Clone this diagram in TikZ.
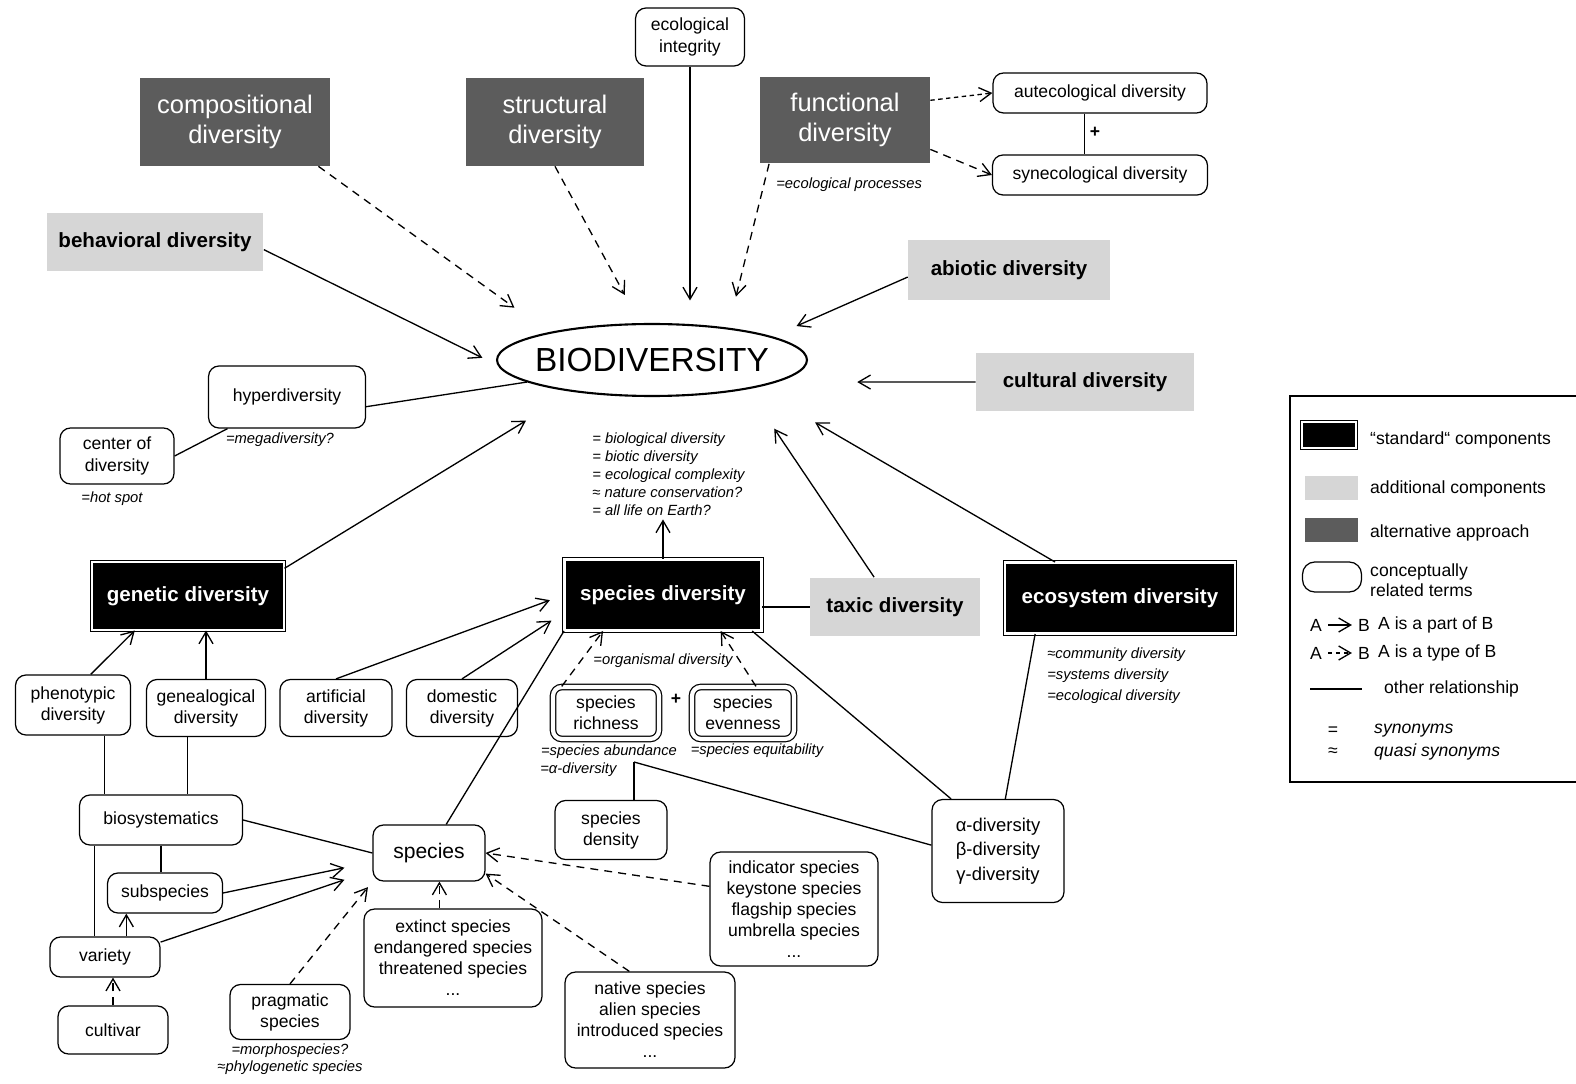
\documentclass[tikz,border=0pt]{standalone}
\usepackage{fontspec}
\setmainfont{Liberation Sans}
\usetikzlibrary{arrows.meta,shapes.geometric}

\definecolor{altgray}{gray}{0.36}
\definecolor{addgray}{gray}{0.84}

\tikzset{
  std/.style={rectangle, fill=black, draw=black, double=white, double distance=1.3pt, line width=0.6pt,
    text=white, font=\fontsize{11.7}{14}\selectfont\bfseries, inner sep=2pt},
  addit/.style={rectangle, fill=addgray, font=\fontsize{11.7}{14}\selectfont\bfseries, inner sep=2pt},
  altern/.style={rectangle, fill=altgray, text=white, align=center, font=\fontsize{14.5}{17.5}\selectfont, inner sep=2pt},
  concept/.style={rectangle, rounded corners=6pt, draw, line width=0.7pt, align=center,
    font=\fontsize{10}{12}\selectfont, inner sep=2pt},
  pairbox/.style={concept, double, double distance=2.4pt, rounded corners=5pt},
  syn/.style={font=\fontsize{8.4}{10.3}\selectfont\itshape, inner sep=0pt},
  partof/.style={-{Straight Barb[length=2.4mm,width=2.8mm]}, line width=0.75pt},
  typeof/.style={partof, dash pattern=on 4.5pt off 3.5pt},
  rel/.style={line width=0.75pt}
}

\begin{document}
\begin{tikzpicture}[x=0.02cm,y=-0.02cm]
\useasboundingbox (0,0) rectangle (1576,1084);

% main terms
\node[ellipse, draw, line width=1.2pt, minimum width=6.2cm, minimum height=1.44cm, inner xsep=-0.3cm, inner ysep=0pt,
  font=\fontsize{19}{22}\selectfont] (bio) at (652,360) {BIODIVERSITY};
\node[concept, minimum width=2.18cm, minimum height=1.16cm] (integ) at (690,37) {ecological\\integrity};
\node[altern, minimum width=3.8cm, minimum height=1.76cm] (comp) at (235,122) {compositional\\diversity};
\node[altern, minimum width=3.58cm, minimum height=1.76cm] (struct) at (555,122) {structural\\diversity};
\node[altern, minimum width=3.4cm, minimum height=1.74cm] (func) at (845,120) {functional\\diversity};
\node[concept, minimum width=4.28cm, minimum height=0.8cm] (autec) at (1100,93) {autecological diversity};
\node[concept, minimum width=4.3cm, minimum height=0.8cm] (synec) at (1100,175) {synecological diversity};
\node[addit, minimum width=4.34cm, minimum height=1.18cm] (behav) at (155,242) {behavioral diversity};
\node[addit, minimum width=4.04cm, minimum height=1.2cm] (abiot) at (1009,270) {abiotic diversity};
\node[addit, minimum width=4.36cm, minimum height=1.18cm] (cult) at (1085,382) {cultural diversity};
\node[concept, minimum width=3.14cm, minimum height=1.24cm] (hyper) at (287,397) {hyperdiversity};
\node[concept, minimum width=2.28cm, minimum height=1.12cm] (cent) at (117,456) {center of\\diversity};
\node[std, minimum width=3.84cm, minimum height=1.36cm] (gen) at (188,596) {genetic diversity};
\node[std, minimum width=3.94cm, minimum height=1.42cm] (spec) at (663,595) {species diversity};
\node[addit, minimum width=3.4cm, minimum height=1.18cm] (taxic) at (895,607) {taxic diversity};
\node[std, minimum width=4.6cm, minimum height=1.42cm] (eco) at (1120,598) {ecosystem diversity};

\node[concept, minimum width=2.3cm, minimum height=1.2cm] (pheno) at (73,705) {phenotypic\\diversity};
\node[concept, minimum width=2.38cm, minimum height=1.14cm] (geneal) at (206,708) {genealogical\\diversity};
\node[concept, minimum width=2.24cm, minimum height=1.14cm] (artif) at (336,708) {artificial\\diversity};
\node[concept, minimum width=2.22cm, minimum height=1.14cm] (domest) at (462,708) {domestic\\diversity};
\node[pairbox, minimum width=2.12cm, minimum height=1.04cm] (rich) at (606,713) {species\\richness};
\node[pairbox, minimum width=2.04cm, minimum height=1.04cm] (even) at (743,713) {species\\evenness};
\node[concept, minimum width=2.24cm, minimum height=1.18cm] (dens) at (611,830) {species\\density};
\node[concept, minimum width=2.64cm, minimum height=2.06cm, font=\fontsize{10.5}{14}\selectfont] (abg) at (998,851)
  {α-diversity\\β-diversity\\γ-diversity};
\node[concept, minimum width=3.26cm, minimum height=1cm] (biosys) at (161,820) {biosystematics};
\node[concept, minimum width=2.3cm, minimum height=0.8cm] (subsp) at (165,893) {subspecies};
\node[concept, minimum width=2.2cm, minimum height=0.8cm] (variety) at (105,957) {variety};
\node[concept, minimum width=2.2cm, minimum height=0.96cm] (cultiv) at (113,1030) {cultivar};
\node[concept, minimum width=2.24cm, minimum height=1.12cm, font=\fontsize{12}{14}\selectfont] (species) at (429,853) {species};
\node[concept, minimum width=3.56cm, minimum height=1.96cm] (extinct) at (453,958)
  {extinct species\\endangered species\\threatened species\\...};
\node[concept, minimum width=2.4cm, minimum height=1.1cm] (pragm) at (290,1012) {pragmatic\\species};
\node[concept, minimum width=3.36cm, minimum height=2.28cm] (indic) at (794,909)
  {indicator species\\keystone species\\flagship species\\umbrella species\\...};
\node[concept, minimum width=3.4cm, minimum height=1.92cm] (native) at (650,1020)
  {native species\\alien species\\introduced species\\...};

% synonyms and signs
\node[font=\bfseries] (plusae) at (1095,132) {+};
\node[syn, anchor=west] (ecoproc) at (776,185) {=ecological processes};
\node[syn] (mega) at (280,440) {=megadiversity?};
\node[syn] (hot) at (112,499) {=hot spot};
\node[syn, anchor=north west, align=left] (bsyn) at (592,432)
  {= biological diversity\\= biotic diversity\\= ecological complexity\\≈ nature conservation?\\= all life on Earth?};
\node[syn] (orgsyn) at (663,661) {=organismal diversity};
\node[font=\bfseries] (plusre) at (676,699) {+};
\node[syn] (abundsyn) at (609,752) {=species abundance};
\node[syn, anchor=west] (alphasyn) at (540,770) {=α-diversity};
\node[syn] (equitsyn) at (757,751) {=species equitability};
\node[syn, anchor=north west, align=left, font=\fontsize{8.4}{12}\selectfont\itshape] (ecosyn) at (1047,647)
  {≈community diversity\\=systems diversity\\=ecological diversity};
\node[syn] (morph) at (290,1051) {=morphospecies?};
\node[syn] (phylo) at (290,1068) {≈phylogenetic species};
\coordinate (abund) at (634,762);

% into BIODIVERSITY
\draw[partof, shorten >=0.45cm] (integ) -- (integ |- bio.north);
\draw[typeof, shorten >=0.84cm] (comp.-28) -- (bio.165);
\draw[typeof, shorten >=0.64cm] (struct.south) -- (bio.108);
\draw[typeof, shorten >=0.64cm] (func.-150) -- (bio.23);
\draw[partof, shorten >=0.34cm] (behav.-4) -- (bio.182);
\draw[partof, shorten >=0.52cm] (abiot.184) -- (bio.11);
\draw[partof, shorten >=1.6cm] (cult.west) -- (bio.-10);
\draw[rel] (hyper.-7) -- (bio.190);
\draw[partof, shorten >=1.1cm] (gen.16) -- (bio.202);
\draw[partof, shorten >=0.95cm] (taxic.125) -- (bio.-17);
\draw[partof, shorten >=1.38cm] (eco.151) -- (bio.-15);

\draw[typeof, dash pattern=on 2.5pt off 2pt] (func.13) -- (autec.west);
\draw[typeof] (func.-19) -- (synec.west);
\draw[rel] (autec.-127) -- (synec.127);
\draw[rel] (cent.east) -- (hyper.208);

% genetic and species diversity
\draw[partof] (pheno.60) -- (gen.213);
\draw[partof] (geneal) -- (geneal |- gen.south);
\draw[partof, shorten >=2pt] (spec) -- (spec |- bsyn.south);
\draw[partof, shorten >=0.3cm] (artif.north) -- (spec.west);
\draw[partof, shorten >=0.3cm] (domest.north) -- (spec.190);
\draw[typeof] (rich.149) -- (spec.211);
\draw[typeof] (even.64) -- (spec.-32);
\draw[rel] (spec.east |- taxic.west) -- (taxic.west);
\draw[rel] (species.59) -- (spec.south west);
\draw[rel] (spec.-22) -- (abg.132);
\draw[rel] (eco.-157) -- (abg.82);
\draw[rel] (abund) -- (abg.175);
\draw[rel] (abund) -- (abund |- dens.north);

% species
\draw[rel] (biosys.east) -- (species.west);
\draw[rel] (pheno.-44) -- (pheno.-44 |- biosys.north);
\draw[rel] (geneal.-122) -- (geneal.-122 |- biosys.north);
\draw[rel] (biosys.-159) -- (biosys.-159 |- variety.north);
\draw[rel] (biosys.south) -- (biosys.south |- subsp.north);
\draw[partof, shorten >=0.57cm] (subsp.east) -- (species.189);
\draw[partof, shorten >=0.59cm] (variety.15) -- (species.197);
\draw[partof] (variety.44) -- (variety.44 |- subsp.south);
\draw[typeof] (cultiv) -- (cultiv |- variety.south);
\draw[typeof, shorten >=4pt] (pragm.north) -- (species.south west);
\draw[typeof] (extinct.north -| species.-70) -- (species.-70);
\draw[typeof] (indic.165) -- (species.east);
\draw[typeof] (native.113) -- (species.-20);

% legend
\draw[line width=0.6pt] (1290,396) rectangle (1600,782);
\node[std, minimum width=1.08cm, minimum height=0.52cm] (lstd) at (1329,435) {};
\node[anchor=west] (lstdt) at (1364,440) {“standard“ components};
\node[addit, minimum width=1.06cm, minimum height=0.5cm] (ladd) at (1331,488) {};
\node[anchor=west] (laddt) at (1364,489) {additional components};
\node[altern, minimum width=1.06cm, minimum height=0.5cm] (lalt) at (1331,530) {};
\node[anchor=west] (laltt) at (1364,533) {alternative approach};
\node[concept, rounded corners=7pt, minimum width=1.18cm, minimum height=0.6cm] (lcon) at (1332,577) {};
\node[anchor=west, align=left, font=\fontsize{10}{11.5}\selectfont] (lcont) at (1364,580) {conceptually\\related terms};
\node (la1) at (1316,625) {A};
\node (lb1) at (1364,625) {B};
\draw[partof] (la1) -- (lb1);
\node[anchor=west] (lpart) at (1372,625) {A is a part of B};
\node (la2) at (1316,653) {A};
\node (lb2) at (1364,653) {B};
\draw[typeof, dash pattern=on 2.5pt off 2pt] (la2) -- (lb2);
\node[anchor=west] (ltype) at (1372,653) {A is a type of B};
\coordinate (lrel1) at (1310,689);
\coordinate (lrel2) at (1362,689);
\draw[rel] (lrel1) -- (lrel2);
\node[anchor=west] (lother) at (1378,689) {other relationship};
\node (leq) at (1333,731) {=};
\node[anchor=west, font=\itshape] (leqt) at (1368,731) {synonyms};
\node (lapp) at (1333,752) {≈};
\node[anchor=west, font=\itshape] (lappt) at (1368,752) {quasi synonyms};
\end{tikzpicture}
\end{document}
